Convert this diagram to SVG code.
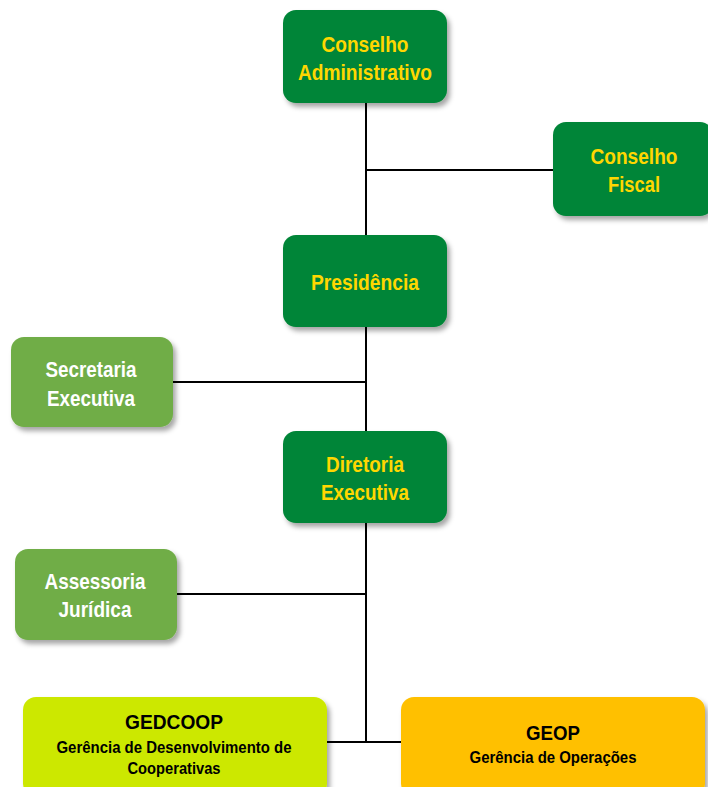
<svg xmlns="http://www.w3.org/2000/svg" width="708" height="787" viewBox="0 0 708 787">
<defs>
<filter id="sh" x="-10%" y="-10%" width="130%" height="140%">
<feDropShadow dx="3" dy="4" stdDeviation="2.5" flood-color="#000" flood-opacity="0.35"/>
</filter>
<style>
.dk{fill:#008537;filter:url(#sh)}
.lt{fill:#70AD47;filter:url(#sh)}
.lime{fill:#CCE800;filter:url(#sh)}
.org{fill:#FFC000;filter:url(#sh)}
text{font-family:"Liberation Sans",Arial,sans-serif;font-weight:bold;text-anchor:middle}
.y{fill:#FFD700;font-size:22px}
.w{fill:#FFFFFF;font-size:22px}
.bt{fill:#000;font-size:21px}
.bs{fill:#000;font-size:17px}
.ln{stroke:#000;stroke-width:2;fill:none}
</style>
</defs>
<rect width="708" height="787" fill="#FFFFFF"/>
<g id="connectors">
<path class="ln" d="M366 103V742M366 170H553M173 382H366M177 594H366M327 742H401"/>
</g>
<g id="conselho-administrativo">
<rect class="dk" x="283" y="10" width="164" height="93" rx="13"/>
<text class="y" x="365" y="52" textLength="87" lengthAdjust="spacingAndGlyphs">Conselho</text>
<text class="y" x="365" y="80" textLength="134" lengthAdjust="spacingAndGlyphs">Administrativo</text>
</g>
<g id="conselho-fiscal">
<rect class="dk" x="553" y="122" width="160" height="94" rx="13"/>
<text class="y" x="634" y="164" textLength="87" lengthAdjust="spacingAndGlyphs">Conselho</text>
<text class="y" x="634" y="192" textLength="52" lengthAdjust="spacingAndGlyphs">Fiscal</text>
</g>
<g id="presidencia">
<rect class="dk" x="283" y="235" width="164" height="92" rx="13"/>
<text class="y" x="365" y="290" textLength="108" lengthAdjust="spacingAndGlyphs">Presidência</text>
</g>
<g id="secretaria-executiva">
<rect class="lt" x="11" y="337" width="162" height="90" rx="13"/>
<text class="w" x="91" y="377" textLength="91" lengthAdjust="spacingAndGlyphs">Secretaria</text>
<text class="w" x="91" y="406" textLength="88" lengthAdjust="spacingAndGlyphs">Executiva</text>
</g>
<g id="diretoria-executiva">
<rect class="dk" x="283" y="431" width="164" height="92" rx="13"/>
<text class="y" x="365" y="472" textLength="78" lengthAdjust="spacingAndGlyphs">Diretoria</text>
<text class="y" x="365" y="500" textLength="88" lengthAdjust="spacingAndGlyphs">Executiva</text>
</g>
<g id="assessoria-juridica">
<rect class="lt" x="15" y="549" width="162" height="91" rx="13"/>
<text class="w" x="95" y="589" textLength="101" lengthAdjust="spacingAndGlyphs">Assessoria</text>
<text class="w" x="95" y="617" textLength="73" lengthAdjust="spacingAndGlyphs">Jurídica</text>
</g>
<g id="gedcoop">
<rect class="lime" x="23" y="697" width="304" height="100" rx="13"/>
<text class="bt" x="174" y="729" textLength="98" lengthAdjust="spacingAndGlyphs">GEDCOOP</text>
<text class="bs" x="174" y="753" textLength="235" lengthAdjust="spacingAndGlyphs">Gerência de Desenvolvimento de</text>
<text class="bs" x="174" y="774" textLength="93" lengthAdjust="spacingAndGlyphs">Cooperativas</text>
</g>
<g id="geop">
<rect class="org" x="401" y="697" width="304" height="100" rx="13"/>
<text class="bt" x="553" y="740" textLength="54" lengthAdjust="spacingAndGlyphs">GEOP</text>
<text class="bs" x="553" y="763" textLength="167" lengthAdjust="spacingAndGlyphs">Gerência de Operações</text>
</g>
</svg>
